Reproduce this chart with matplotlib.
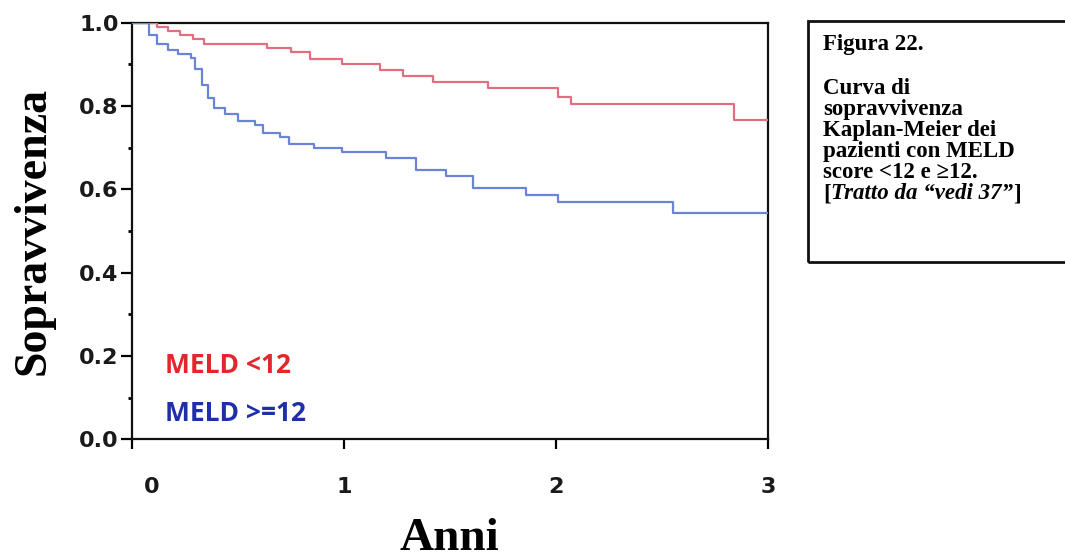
import matplotlib
matplotlib.use("Agg")
import matplotlib.pyplot as plt
from matplotlib.patches import Rectangle
from matplotlib.transforms import ScaledTranslation

# ---- data ----
red_t = [0, 0.12, 0.17, 0.23, 0.29, 0.34, 0.64, 0.75, 0.84, 0.99, 1.17, 1.28,
         1.42, 1.68, 2.01, 2.07, 2.84, 3.0]
red_s = [1.0, 0.99, 0.98, 0.97, 0.96, 0.95, 0.94, 0.93, 0.913, 0.902, 0.886,
         0.872, 0.858, 0.844, 0.822, 0.805, 0.766, 0.766]

blue_t = [0, 0.08, 0.12, 0.17, 0.22, 0.28, 0.30, 0.33, 0.36, 0.39, 0.44, 0.50,
          0.58, 0.62, 0.70, 0.74, 0.86, 0.99, 1.20, 1.34, 1.48, 1.61, 1.86,
          2.01, 2.55, 3.0]
blue_s = [1.0, 0.97, 0.95, 0.935, 0.925, 0.915, 0.89, 0.85, 0.82, 0.795, 0.78,
          0.765, 0.755, 0.735, 0.725, 0.71, 0.70, 0.69, 0.675, 0.646, 0.632,
          0.603, 0.586, 0.570, 0.543, 0.543]

x_ticks = [0, 1, 2, 3]
x_ticklabels = ["0", "1", "2", "3"]
y_ticks = [0.0, 0.2, 0.4, 0.6, 0.8, 1.0]
y_ticklabels = ["0.0", "0.2", "0.4", "0.6", "0.8", "1.0"]
y_minor = [0.1, 0.3, 0.5, 0.7, 0.9]

legend_labels = ["MELD <12", "MELD >=12"]
ylabel = "Sopravvivenza"
xlabel = "Anni"
caption_lines = ["Figura 22.", "", "Curva di", "sopravvivenza",
                 "Kaplan-Meier dei", "pazienti con MELD", "score <12 e \u226512."]
caption_last = ["[", "Tratto da \u201cvedi 37\u201d", "]"]

# ---- figure ----
W, H = 1065, 560
fig = plt.figure(figsize=(W / 100, H / 100), dpi=100)
ax = fig.add_axes([131.7 / W, 1 - 439.3 / H, (768 - 131.7) / W, (439.3 - 22.7) / H])

ax.step(red_t, red_s, where="post", color="#e07080", lw=1.6, zorder=3)
ax.step(blue_t, blue_s, where="post", color="#6a84d6", lw=1.6, zorder=3)

ax.set_xlim(0, 3)
ax.set_ylim(0, 1.0)

for sp in ax.spines.values():
    sp.set_linewidth(1.6)
    sp.set_color("#111111")

tick_font = dict(family="DejaVu Sans", weight="bold", size=16)
ax.set_xticks(x_ticks)
ax.set_xticklabels(x_ticklabels, fontdict=tick_font, color="#1a1a1a")
ax.set_yticks(y_ticks)
ax.set_yticklabels(y_ticklabels, fontdict=tick_font, color="#1a1a1a")
ax.set_yticks(y_minor, minor=True)
ax.tick_params(axis="x", direction="out", length=7, width=1.6, pad=20)
ax.tick_params(axis="y", which="major", direction="out", length=8, width=1.6, pad=1.5)
ax.tick_params(axis="y", which="minor", direction="out", length=3, width=2)

# nudge the "0" label a bit right, as in the reference
lbl0 = ax.get_xticklabels()[0]
lbl0.set_transform(lbl0.get_transform() + ScaledTranslation(0.2, 0, fig.dpi_scale_trans))

ax.set_ylabel(ylabel, family="Liberation Serif", weight="bold", size=33)
ax.yaxis.set_label_coords(-0.155, 0.5)
ax.yaxis.label.set_va("center")
ax.set_xlabel(xlabel, family="Liberation Serif", weight="bold", size=34)
ax.xaxis.set_label_coords(0.5, (439.3 - 559.5) / (439.3 - 22.7))
ax.xaxis.label.set_va("bottom")

leg_font = dict(family="Open Sans", weight="bold", size=19)
ax.text(0.157, 0.176, legend_labels[0], color="#e3262b", va="center", ha="left", **leg_font)
ax.text(0.157, 0.063, legend_labels[1], color="#1f2fa8", va="center", ha="left", **leg_font)

# ---- caption box ----
fig.patches.append(Rectangle((808 / W, 1 - 262 / H), 300 / W, (262 - 20.7) / H,
                             transform=fig.transFigure, fill=False,
                             edgecolor="#111111", lw=2))
cap_font = dict(family="Liberation Serif", weight="bold", size=16.5)
x0 = 823 / W
baselines = [50, 72, 94, 115, 136, 157, 178]
for line, b in zip(caption_lines, baselines):
    if line:
        fig.text(x0, 1 - b / H, line, va="baseline", ha="left", **cap_font)
t1 = fig.text(x0, 1 - 199 / H, caption_last[0], va="baseline", ha="left", **cap_font)
ann2 = ax.annotate(caption_last[1], xy=(1, 0), xycoords=t1, va="bottom", ha="left",
                   style="italic", annotation_clip=False, **cap_font)
ann3 = ax.annotate(caption_last[2], xy=(1, 0), xycoords=ann2, va="bottom", ha="left",
                   annotation_clip=False, **cap_font)

fig.savefig("out.png", dpi=100)
